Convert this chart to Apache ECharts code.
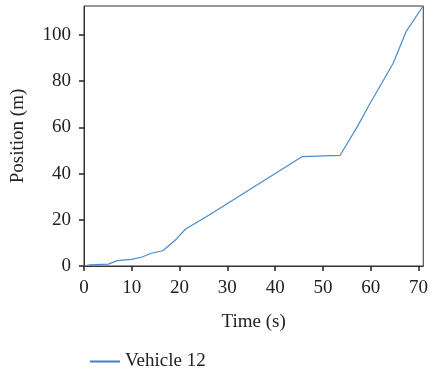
<!DOCTYPE html>
<html>
<head>
<meta charset="utf-8">
<script src="https://cdn.jsdelivr.net/npm/echarts@6/dist/echarts.min.js"></script>
<style>
  html, body { margin: 0; padding: 0; background: #fff; }
  #chart { width: 431px; height: 379px; }
</style>
</head>
<body>
<div id="chart"></div>
<script>
// Vehicle 12 trajectory: time (s) vs. position (m)
const seriesName = 'Vehicle 12';
const times =     [0, 1.2, 5.1, 7.0, 9.9, 12.0, 14.1, 16.5, 19.3, 21.2, 26.2, 45.6, 53.6, 57.2, 59.5, 64.7, 67.4, 70.9];
const positions = [0, 0.5, 0.8, 2.3, 2.9, 3.8, 5.5, 6.6, 11.6, 15.9, 22.1, 47.3, 47.9, 60.3, 69.0, 87.7, 101.4, 112.3];
const xTicks = [0, 10, 20, 30, 40, 50, 60, 70];
const yTicks = [0, 20, 40, 60, 80, 100];

const font = 'Liberation Serif';
const fontSize = 19;
const textColor = '#222';

const chart = echarts.init(document.getElementById('chart'), null, { renderer: 'canvas' });
chart.setOption({
  animation: false,
  backgroundColor: '#fff',
  grid: {
    left: 84, right: 5, top: 6, bottom: 113,
    show: true, borderColor: '#333', borderWidth: 1, backgroundColor: 'transparent'
  },
  legend: {
    left: 85, top: 347,
    itemWidth: 30, itemHeight: 14, itemGap: 10,
    icon: 'path://M0,6L30,6L30,8L0,8Z',
    textStyle: { fontFamily: font, fontSize: fontSize, color: textColor },
    data: [seriesName]
  },
  xAxis: {
    type: 'value', min: 0, max: 71, interval: 10,
    name: 'Time (s)', nameLocation: 'middle', nameGap: 47,
    nameTextStyle: { fontFamily: font, fontSize: fontSize, color: textColor },
    axisLine: { show: true, lineStyle: { color: '#333', width: 1 } },
    axisTick: { show: true, length: 5, lineStyle: { color: '#222', width: 1.5 }, customValues: xTicks },
    axisLabel: { fontFamily: font, fontSize: fontSize, color: textColor, margin: 13, customValues: xTicks },
    splitLine: { show: false }
  },
  yAxis: {
    type: 'value', min: 0, max: 112.5, interval: 20,
    name: 'Position (m)', nameLocation: 'middle', nameGap: 56, nameRotate: 90,
    nameTextStyle: { fontFamily: font, fontSize: fontSize, color: textColor },
    axisLine: { show: true, lineStyle: { color: '#333', width: 1 } },
    axisTick: { show: true, length: 5, lineStyle: { color: '#222', width: 1.5 }, customValues: yTicks },
    axisLabel: { fontFamily: font, fontSize: fontSize, color: textColor, margin: 13, customValues: yTicks },
    splitLine: { show: false }
  },
  series: [{
    name: seriesName,
    type: 'line',
    data: times.map((t, i) => [t, positions[i]]),
    showSymbol: false,
    symbol: 'none',
    color: '#3f80c6',
    lineStyle: { width: 1.2, color: '#4a8bcc' },
    clip: true
  }]
});
</script>
</body>
</html>
